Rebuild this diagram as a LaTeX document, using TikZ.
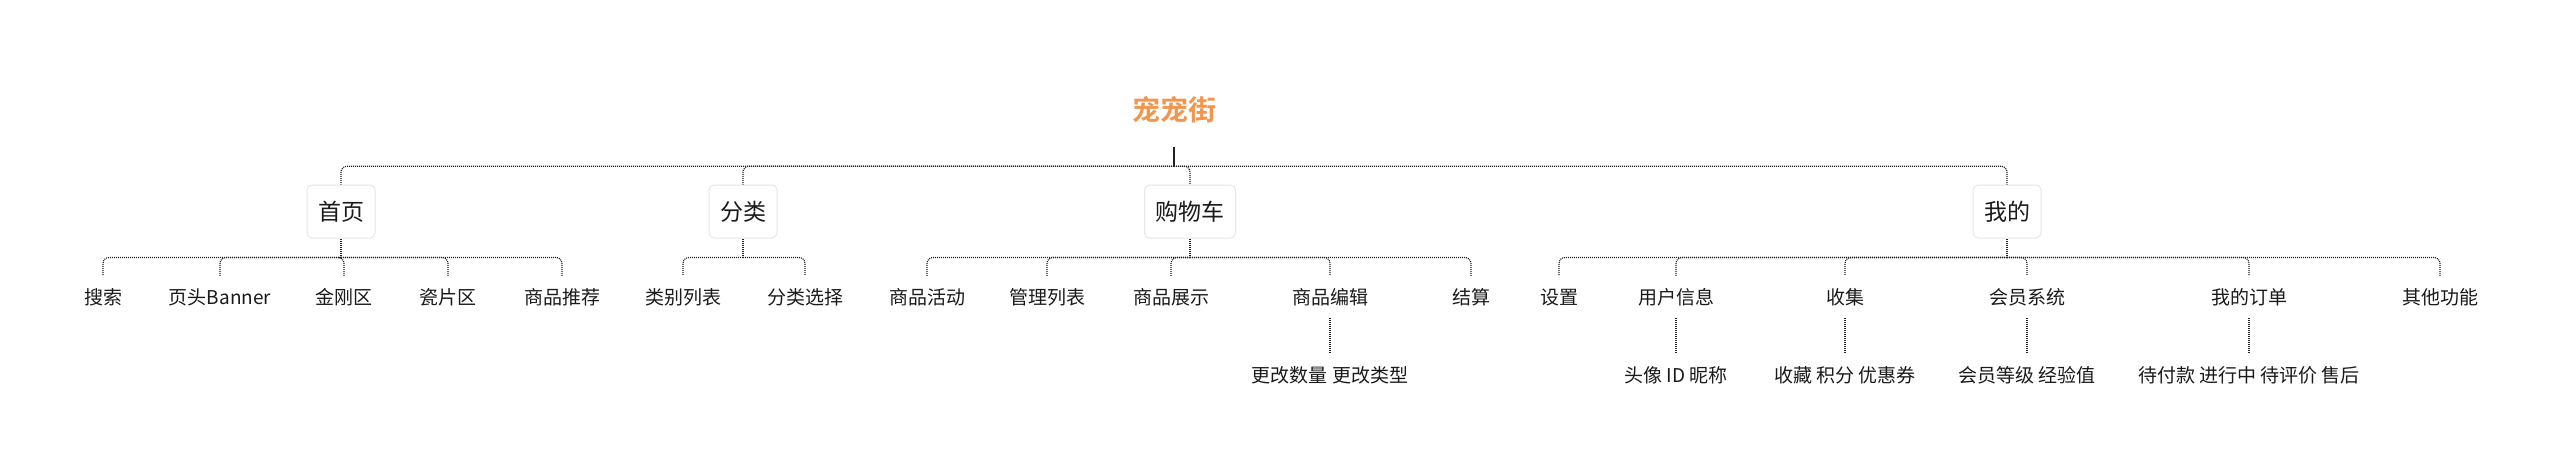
\documentclass[tikz,border=0pt]{standalone}
\usepackage{fontspec}
\setmainfont{Noto Sans CJK SC}[BoldFont={Noto Sans CJK SC Bold}]
\usepackage{xcolor}
\definecolor{color1}{HTML}{F3954C}
\definecolor{color2}{HTML}{E6E6E6}
\definecolor{color3}{HTML}{222222}
\definecolor{color4}{HTML}{1A1A1A}
\usepackage{tikz}
\usetikzlibrary{positioning, calc}
\tikzset{%
    topic/.style={%
        draw=color2, fill=white, line width=1pt, rounded corners=5pt,
        minimum height=53pt, inner xsep=11pt, inner ysep=0pt,
        font=\fontsize{23}{23}\selectfont, text=color4,
    },
    leaf/.style={%
        inner sep=0pt, minimum height=42pt,
        font=\fontsize{19}{19}\selectfont, text=color4,
    },
    link/.style={%
        draw=color3, line width=1.2pt, dash pattern=on 1pt off 1pt, rounded corners=6pt,
    },
    linkthick/.style={%
        draw=color3, line width=1.5pt, line cap=butt, dash pattern=on 1pt off 1pt,
    },
}

\begin{document}
\begin{tikzpicture}[
        x=1pt, y=-1pt,
        stem/.style={draw=color3, line width=1.4pt},
        every node/.style={inner sep=0},
    ]
        \useasboundingbox (0,0) rectangle (2560,471);
        \def\rowA{211.5}
        \def\rowB{297}
        \def\rowC{375}

        \node (root)[font=\fontsize{28}{28}\selectfont\bfseries, text=color1, minimum height=74pt] at (1174,110) {宠宠街};

        \node (shouye)[topic] at (341,\rowA) {首页};
        \node (fenlei)[topic] at (743,\rowA) {分类};
        \node (gouwuche)[topic] at (1190,\rowA) {购物车};
        \node (wode)[topic] at (2007,\rowA) {我的};

        % 首页
        \node (sousuo)[leaf] at (103,\rowB) {搜索};
        \node (banner)[leaf] at (220,\rowB) {页头Banner};
        \node (jingang)[leaf] at (344,\rowB) {金刚区};
        \node (cipian)[leaf] at (448,\rowB) {瓷片区};
        \node (tuijian)[leaf] at (562,\rowB) {商品推荐};
        % 分类
        \node (leibie)[leaf] at (683,\rowB) {类别列表};
        \node (xuanze)[leaf] at (805,\rowB) {分类选择};
        % 购物车
        \node (huodong)[leaf] at (927,\rowB) {商品活动};
        \node (guanli)[leaf] at (1047,\rowB) {管理列表};
        \node (zhanshi)[leaf] at (1171,\rowB) {商品展示};
        \node (bianji)[leaf] at (1330,\rowB) {商品编辑};
        \node (jiesuan)[leaf] at (1471,\rowB) {结算};
        % 我的
        \node (shezhi)[leaf] at (1559,\rowB) {设置};
        \node (yonghu)[leaf] at (1676,\rowB) {用户信息};
        \node (shouji)[leaf] at (1845,\rowB) {收集};
        \node (huiyuan)[leaf] at (2027,\rowB) {会员系统};
        \node (dingdan)[leaf] at (2249,\rowB) {我的订单};
        \node (qita)[leaf] at (2440,\rowB) {其他功能};

        \node (gengai)[leaf] at (1330,\rowC) {更改数量 更改类型};
        \node (touxiang)[leaf] at (1676,\rowC) {头像 ID 昵称};
        \node (shoucang)[leaf] at (1845,\rowC) {收藏 积分 优惠券};
        \node (dengji)[leaf] at (2027,\rowC) {会员等级 经验值};
        \node (daifu)[leaf] at (2249,\rowC) {待付款 进行中 待评价 售后};

        \draw[stem] (root.south) -- ++(0,19) coordinate (hub0);
        \draw[link] (hub0) -| (shouye.north);
        \draw[link] (hub0) -| (fenlei.north);
        \draw[link] (hub0) -| (gouwuche.north);
        \draw[link] (hub0) -| (wode.north);

        \draw[link] (shouye.south) -- ++(0,19) coordinate (hub1);
        \draw[link] (hub1) -| (sousuo.north);
        \draw[link] (hub1) -| (banner.north);
        \draw[link] (hub1) -| (jingang.north);
        \draw[link] (hub1) -| (cipian.north);
        \draw[link] (hub1) -| (tuijian.north);

        \draw[link] (fenlei.south) -- ++(0,19) coordinate (hub2);
        \draw[link] (hub2) -| (leibie.north);
        \draw[link] (hub2) -| (xuanze.north);

        \draw[link] (gouwuche.south) -- ++(0,19) coordinate (hub3);
        \draw[link] (hub3) -| (huodong.north);
        \draw[link] (hub3) -| (guanli.north);
        \draw[link] (hub3) -| (zhanshi.north);
        \draw[link] (hub3) -| (bianji.north);
        \draw[link] (hub3) -| (jiesuan.north);

        \draw[link] (wode.south) -- ++(0,19) coordinate (hub4);
        \draw[link] (hub4) -| (shezhi.north);
        \draw[link] (hub4) -| (yonghu.north);
        \draw[link] (hub4) -| (shouji.north);
        \draw[link] (hub4) -| (huiyuan.north);
        \draw[link] (hub4) -| (dingdan.north);
        \draw[link] (hub4) -| (qita.north);

        \draw[linkthick] (bianji.south) -- (gengai.north);
        \draw[linkthick] (yonghu.south) -- (touxiang.north);
        \draw[linkthick] (shouji.south) -- (shoucang.north);
        \draw[linkthick] (huiyuan.south) -- (dengji.north);
        \draw[linkthick] (dingdan.south) -- (daifu.north);
    \end{tikzpicture}
\end{document}
